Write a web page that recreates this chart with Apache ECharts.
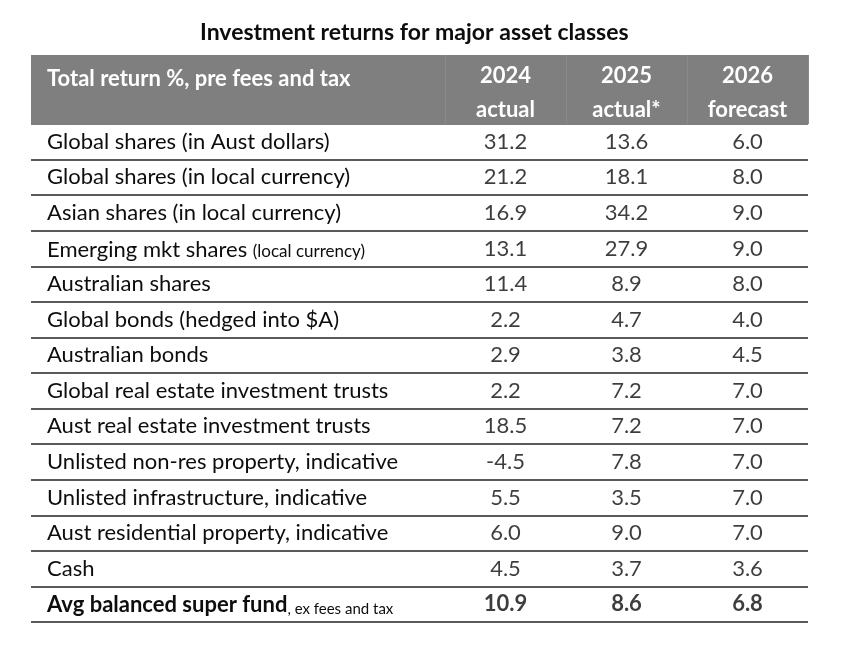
<!DOCTYPE html>
<html>
<head>
<meta charset="utf-8">
<script src="https://cdn.jsdelivr.net/npm/echarts@6/dist/echarts.min.js"></script>
<style>
html,body{margin:0;padding:0;background:#fff;}
#chart{width:842px;height:658px;}
</style>
</head>
<body>
<div id="chart"></div>
<script>
var chartTitle = 'Investment returns for major asset classes';
var headerTitle = 'Total return %, pre fees and tax';
var columnHeaders = ['2024\nactual', '2025\nactual*', '2026\nforecast'];
var rowLabels = [
  'Global shares (in Aust dollars)',
  'Global shares (in local currency)',
  'Asian shares (in local currency)',
  'Emerging mkt shares (local currency)',
  'Australian shares',
  'Global bonds (hedged into $A)',
  'Australian bonds',
  'Global real estate investment trusts',
  'Aust real estate investment trusts',
  'Unlisted non-res property, indicative',
  'Unlisted infrastructure, indicative',
  'Aust residential property, indicative',
  'Cash',
  'Avg balanced super fund, ex fees and tax'
];
var values2024 = [31.2, 21.2, 16.9, 13.1, 11.4, 2.2, 2.9, 2.2, 18.5, -4.5, 5.5, 6.0, 4.5, 10.9];
var values2025 = [13.6, 18.1, 34.2, 27.9, 8.9, 4.7, 3.8, 7.2, 7.2, 7.8, 3.5, 9.0, 3.7, 8.6];
var values2026 = [6.0, 8.0, 9.0, 9.0, 8.0, 4.0, 4.5, 7.0, 7.0, 7.0, 7.0, 7.0, 3.6, 6.8];

var FONT = 'Lato';
var TEXT = '#0d0d0d';
var LINE = '#5a5a5a';
var HEAD_BG = '#7f7f7f';
var FS = 22;

var columns = [values2024, values2025, values2026];
var lastRow = rowLabels.length - 1;
var cellData = [];
columns.forEach(function (col, ci) {
  col.forEach(function (v, ri) {
    var item = { value: [ci, ri, v] };
    if (ri === lastRow) item.label = { fontWeight: 'bold' };
    cellData.push(item);
  });
});

var splitColors = rowLabels.map(function () { return LINE; });
splitColors.unshift(HEAD_BG);

var chart = echarts.init(document.getElementById('chart'), null, { renderer: 'canvas' });
chart.setOption({
  animation: false,
  backgroundColor: '#fff',
  textStyle: { fontFamily: FONT },
  title: [
    { text: chartTitle, left: 195, top: 16,
      textStyle: { fontFamily: FONT, fontSize: 23, fontWeight: 'bold', color: TEXT } },
    { text: headerTitle, left: 42, top: 63,
      textStyle: { fontFamily: FONT, fontSize: FS, fontWeight: 'bold', color: '#fff' } }
  ],
  grid: [
    { id: 'rows', left: 31, right: 34, top: 124, bottom: 36, containLabel: false },
    { id: 'cells', left: 445, right: 34, top: 124, bottom: 36, containLabel: false },
    { id: 'head', left: 31, right: 34, top: 55, height: 69, show: true, backgroundColor: HEAD_BG, borderWidth: 0, z: 0 },
    { id: 'headSep', left: 445, right: 34, top: 55, height: 69, containLabel: false }
  ],
  xAxis: [
    { gridIndex: 0, type: 'category', data: ['label'], show: false },
    { gridIndex: 1, type: 'category', data: columnHeaders, position: 'top',
      axisLine: { show: false }, axisTick: { show: false }, splitLine: { show: false },
      axisLabel: { show: true, interval: 0, margin: -3, color: '#fff', fontFamily: FONT,
        fontSize: FS, fontWeight: 'bold', lineHeight: 34 } },
    { gridIndex: 2, type: 'category', data: ['h'], show: false },
    { gridIndex: 3, type: 'category', data: columnHeaders,
      axisLine: { show: false }, axisTick: { show: false }, axisLabel: { show: false },
      splitLine: { show: true, lineStyle: { color: '#8a8a8a', width: 1 } } }
  ],
  yAxis: [
    { gridIndex: 0, type: 'category', data: rowLabels, inverse: true,
      axisLine: { show: false }, axisTick: { show: false },
      splitLine: { show: true, lineStyle: { color: splitColors, width: 2 } },
      axisLabel: {
        inside: true, align: 'left', margin: 16, interval: 0, color: TEXT,
        fontFamily: FONT, fontSize: FS,
        formatter: function (val, idx) {
          if (idx === lastRow) {
            var p = val.split(', ');
            return '{b|' + p[0] + '}{s|, ' + p[1] + '}';
          }
          if (val.indexOf('Emerging') === 0) {
            return '{n|' + val.replace(' (local currency)', ' ') + '}{m|(local currency)}';
          }
          return val;
        },
        rich: {
          b: { fontFamily: FONT, fontSize: FS, fontWeight: 'bold', color: TEXT, verticalAlign: 'bottom', lineHeight: 24 },
          s: { fontFamily: FONT, fontSize: 15, color: TEXT, verticalAlign: 'bottom', lineHeight: 19 },
          n: { fontFamily: FONT, fontSize: FS, color: TEXT, verticalAlign: 'bottom', lineHeight: 24 },
          m: { fontFamily: FONT, fontSize: 17, color: TEXT, verticalAlign: 'bottom', lineHeight: 20 }
        }
      } },
    { gridIndex: 1, type: 'category', data: rowLabels, inverse: true, show: false },
    { gridIndex: 2, type: 'category', data: ['h'], show: false },
    { gridIndex: 3, type: 'category', data: ['h'], show: false }
  ],
  series: [
    {
      type: 'scatter', xAxisIndex: 1, yAxisIndex: 1, symbolSize: 0, silent: true,
      data: cellData,
      label: {
        show: true, position: 'inside', color: TEXT, fontFamily: FONT, fontSize: FS,
        formatter: function (p) { return p.value[2].toFixed(1); }
      }
    }
  ]
});
</script>
</body>
</html>
